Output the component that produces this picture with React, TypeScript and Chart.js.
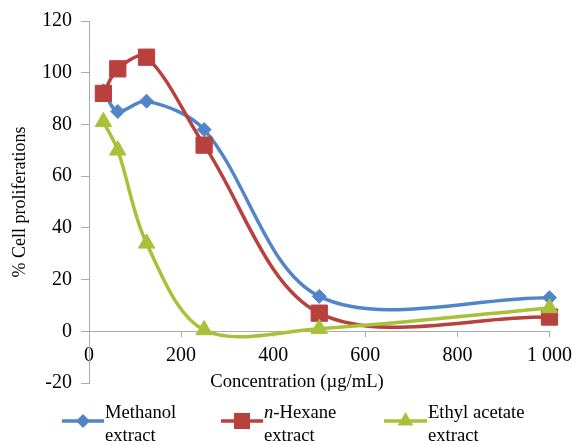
import React, { useEffect, useRef } from "react";
import { Chart, registerables } from "chart.js";

Chart.register(...registerables);

const concentrations = [31.25, 62.5, 125, 250, 500, 1000];
const methanol = [93, 85, 89, 78, 13.5, 13];
const hexane = [92, 101.5, 106, 72, 7, 5.5];
const ethylAcetate = [81, 70, 34, 0.5, 1, 9];

const xTicks = [0, 200, 400, 600, 800, 1000];
const yTicks = [-20, 0, 20, 40, 60, 80, 100, 120];

const BLUE = "#5285C8";
const RED = "#B8413E";
const GREEN = "#A9C03B";
const AXIS = "#ABABAB";
const FONT = "'Liberation Serif', 'Times New Roman', serif";

const legendItems = [
  { lines: ["Methanol", "extract"], color: BLUE, marker: "diamond", x1: 62, x2: 104 },
  { lines: ["n-Hexane", "extract"], color: RED, marker: "square", x1: 221, x2: 263 },
  { lines: ["Ethyl acetate", "extract"], color: GREEN, marker: "triangle", x1: 384, x2: 427 },
];

function drawMarker(ctx: CanvasRenderingContext2D, kind: string, x: number, y: number, color: string) {
  ctx.save();
  ctx.fillStyle = color;
  ctx.beginPath();
  if (kind === "diamond") {
    const r = 7;
    ctx.moveTo(x, y - r);
    ctx.lineTo(x + r, y);
    ctx.lineTo(x, y + r);
    ctx.lineTo(x - r, y);
  } else if (kind === "square") {
    const s = 8;
    ctx.rect(x - s, y - s, 2 * s, 2 * s);
  } else {
    const r = 9;
    for (let i = 0; i < 3; i++) {
      const a = (i * 2 * Math.PI) / 3;
      const px = x + Math.sin(a) * r;
      const py = y - Math.cos(a) * r;
      if (i === 0) ctx.moveTo(px, py);
      else ctx.lineTo(px, py);
    }
  }
  ctx.closePath();
  ctx.fill();
  ctx.restore();
}

const annotationsPlugin = {
  id: "annotations",
  afterDraw(chart: any) {
    const ctx: CanvasRenderingContext2D = chart.ctx;
    const area = chart.chartArea;
    ctx.save();
    ctx.fillStyle = "#000";
    ctx.font = `18px ${FONT}`;
    ctx.textAlign = "center";
    ctx.textBaseline = "middle";
    ctx.save();
    ctx.translate(20, (area.top + area.bottom) / 2);
    ctx.rotate(-Math.PI / 2);
    ctx.fillText("% Cell proliferations", 0, 0);
    ctx.restore();
    ctx.font = `18.6px ${FONT}`;
    ctx.fillText("Concentration (\u00b5g/mL)", 297, 382);

    const lineY = 421;
    legendItems.forEach((it) => {
      ctx.save();
      ctx.strokeStyle = it.color;
      ctx.lineWidth = 3.5;
      ctx.beginPath();
      ctx.moveTo(it.x1, lineY);
      ctx.lineTo(it.x2, lineY);
      ctx.stroke();
      ctx.restore();
      drawMarker(ctx, it.marker, (it.x1 + it.x2) / 2, lineY, it.color);
      ctx.textAlign = "left";
      ctx.textBaseline = "alphabetic";
      const tx = it.x2 + 1;
      const first = it.lines[0];
      const f = `18.6px ${FONT}`;
      if (first.startsWith("n-")) {
        ctx.font = `italic 18.6px ${FONT}`;
        ctx.fillText("n", tx, 418);
        const w = ctx.measureText("n").width;
        ctx.font = f;
        ctx.fillText(first.slice(1), tx + w, 418);
      } else {
        ctx.font = f;
        ctx.fillText(first, tx, 418);
      }
      ctx.font = f;
      ctx.fillText(it.lines[1], tx, 441);
    });
    ctx.restore();
  },
};

function toPoints(values: number[]) {
  return concentrations.map((c, i) => ({ x: c, y: values[i] }));
}

export default function App() {
  const canvasRef = useRef<HTMLCanvasElement | null>(null);

  useEffect(() => {
    document.body.style.margin = "0";
    const canvas = canvasRef.current;
    if (!canvas) return;
    const mk = (label: string, values: number[], color: string, pointStyle: string, radius: number, order: number) => ({
      label,
      data: toPoints(values),
      borderColor: color,
      backgroundColor: color,
      borderWidth: 3.5,
      pointStyle,
      pointRadius: radius,
      pointBorderWidth: 1,
      pointBorderColor: color,
      pointBackgroundColor: color,
      tension: 0.33,
      order,
      clip: false as const,
    });
    const chart = new Chart(canvas, {
      type: "line",
      data: {
        datasets: [
          mk("Methanol extract", methanol, BLUE, "rectRot", 7, 3),
          mk("n-Hexane extract", hexane, RED, "rect", 11.5, 2),
          mk("Ethyl acetate extract", ethylAcetate, GREEN, "triangle", 9.5, 1),
        ] as any,
      },
      options: {
        animation: false,
        responsive: false,
        devicePixelRatio: 1,
        layout: { padding: { left: 0, top: 16, right: 24, bottom: 62 } },
        plugins: { legend: { display: false }, tooltip: { enabled: false } },
        scales: {
          x: {
            type: "linear",
            position: { y: 0 } as any,
            min: 0,
            max: 1000,
            afterBuildTicks: (scale: any) => {
              scale.ticks = xTicks.map((v) => ({ value: v }));
            },
            grid: { drawOnChartArea: false, drawTicks: true, tickLength: 5, color: AXIS },
            border: { display: true, color: AXIS, width: 1 },
            ticks: {
              autoSkip: false,
              maxRotation: 0,
              padding: 7,
              color: "#000",
              font: { family: FONT, size: 20 },
              callback: (v: any) => (Number(v) === 1000 ? "1 000" : String(v)),
            },
          },
          y: {
            type: "linear",
            position: "left",
            min: -20,
            max: 120,
            afterBuildTicks: (scale: any) => {
              scale.ticks = yTicks.map((v) => ({ value: v }));
            },
            afterFit: (scale: any) => {
              scale.width = 89;
            },
            grid: { drawOnChartArea: false, drawTicks: true, tickLength: 8, color: AXIS },
            border: { display: true, color: AXIS, width: 1 },
            ticks: {
              padding: 9,
              color: "#000",
              font: { family: FONT, size: 20 },
            },
          },
        },
      } as any,
      plugins: [annotationsPlugin],
    });
    return () => chart.destroy();
  }, []);

  return (
    <div style={{ position: "fixed", left: 0, top: 0, width: 579, height: 445, background: "#fff" }}>
      <canvas ref={canvasRef} width={579} height={445} />
    </div>
  );
}
